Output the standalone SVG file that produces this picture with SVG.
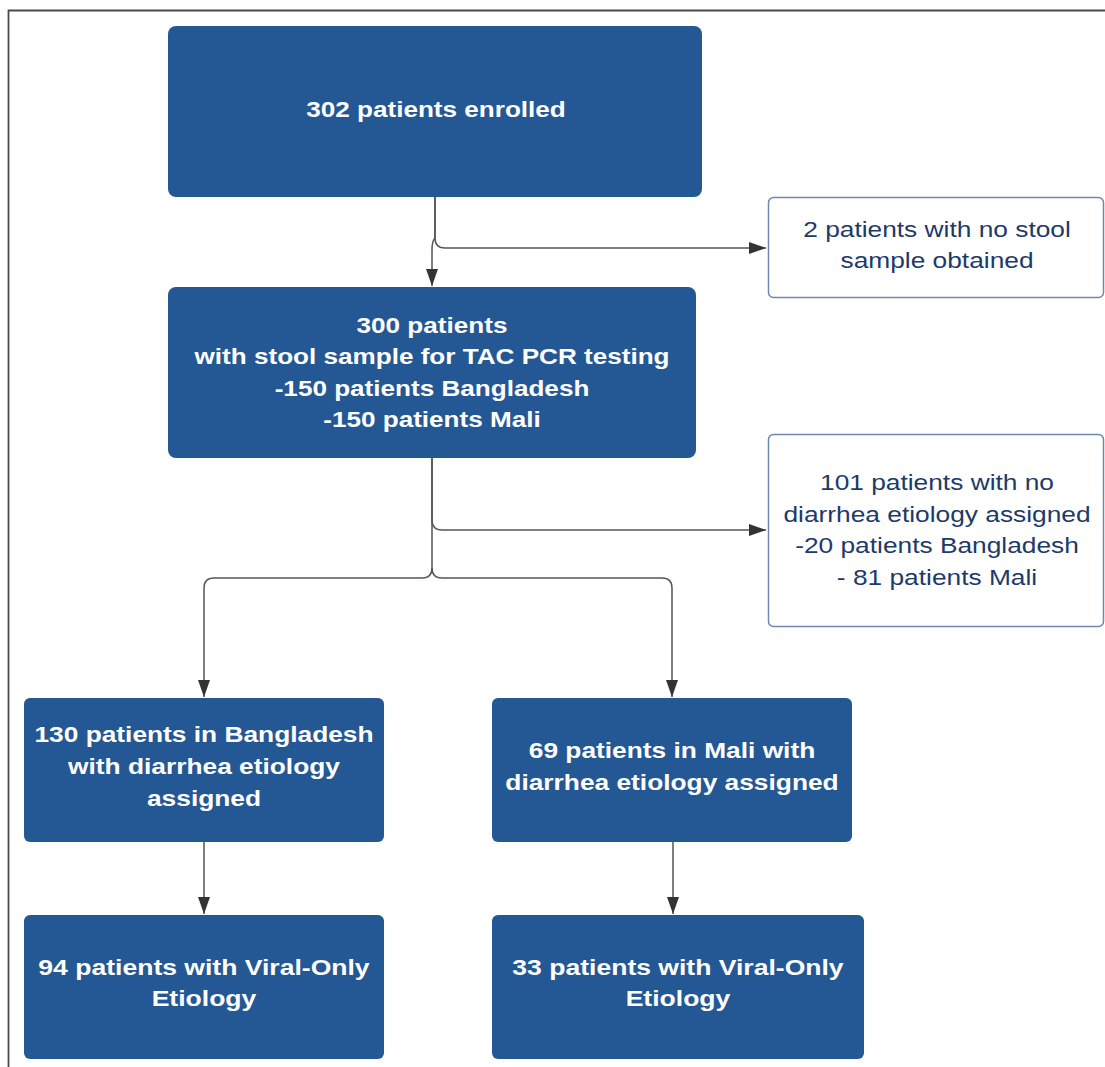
<svg xmlns="http://www.w3.org/2000/svg" width="1105" height="1067" viewBox="0 0 1105 1067">
<defs>
<style>
.blue{fill:#245895;}
.white{fill:#ffffff;stroke:#6f88ad;stroke-width:1.5;}
.bt{font-family:"Liberation Sans",Arial,sans-serif;font-weight:bold;font-size:22.5px;fill:#ffffff;text-anchor:middle;}
.rt{font-family:"Liberation Sans",Arial,sans-serif;font-size:22.5px;fill:#1d3a6a;text-anchor:middle;}
.conn{fill:none;stroke:#555555;stroke-width:1.5;}
</style>
<marker id="arr" markerUnits="userSpaceOnUse" markerWidth="18" markerHeight="12" refX="17" refY="6" orient="auto">
<path d="M0,0 L17,6 L0,12 Z" fill="#333333"/>
</marker>
</defs>
<rect x="0" y="0" width="1105" height="1067" fill="#ffffff"/>
<path d="M8.5,1067 V10.5 H1105" fill="none" stroke="#4a4a4a" stroke-width="1.8"/>

<g id="connectors">
<path class="conn" d="M435,197 V238 Q435,248 445,248 H766" marker-end="url(#arr)"/>
<path class="conn" d="M435,197 V238 Q432,241 432,250 V286" marker-end="url(#arr)"/>
<path class="conn" d="M432,457 V520 Q432,530 442,530 H766" marker-end="url(#arr)"/>
<path class="conn" d="M432,457 V568 Q432,578 422,578 H214 Q204,578 204,588 V697" marker-end="url(#arr)"/>
<path class="conn" d="M432,568 Q432,578 442,578 H662 Q672,578 672,588 V697" marker-end="url(#arr)"/>
<path class="conn" d="M204,842 V914" marker-end="url(#arr)"/>
<path class="conn" d="M673,842 V914" marker-end="url(#arr)"/>
</g>

<g id="n302">
<rect class="blue" x="168" y="26" width="534" height="171" rx="8"/>
<g transform="translate(436,0) scale(1.16,1)">
<text class="bt" x="0" y="117">302 patients enrolled</text>
</g>
</g>

<g id="nNoStool">
<rect class="white" x="768.5" y="197.5" width="335" height="100" rx="5"/>
<g transform="translate(937,0) scale(1.17,1)">
<text class="rt" x="0" y="237">2 patients with no stool</text>
<text class="rt" x="0" y="268">sample obtained</text>
</g>
</g>

<g id="n300">
<rect class="blue" x="168" y="287" width="528" height="171" rx="8"/>
<g transform="translate(432,0) scale(1.16,1)">
<text class="bt" x="0" y="333">300 patients</text>
<text class="bt" x="0" y="364">with stool sample for TAC PCR testing</text>
<text class="bt" x="0" y="396">-150 patients Bangladesh</text>
<text class="bt" x="0" y="427">-150 patients Mali</text>
</g>
</g>

<g id="nNoEtiology">
<rect class="white" x="768.5" y="434.5" width="335" height="192" rx="5"/>
<g transform="translate(937,0) scale(1.17,1)">
<text class="rt" x="0" y="490">101 patients with no</text>
<text class="rt" x="0" y="522">diarrhea etiology assigned</text>
<text class="rt" x="0" y="553">-20 patients Bangladesh</text>
<text class="rt" x="0" y="585">- 81 patients Mali</text>
</g>
</g>

<g id="n130">
<rect class="blue" x="24" y="698" width="360" height="144" rx="6"/>
<g transform="translate(204,0) scale(1.17,1)">
<text class="bt" x="0" y="742">130 patients in Bangladesh</text>
<text class="bt" x="0" y="774">with diarrhea etiology</text>
<text class="bt" x="0" y="806">assigned</text>
</g>
</g>

<g id="n69">
<rect class="blue" x="492" y="698" width="360" height="144" rx="6"/>
<g transform="translate(672,0) scale(1.17,1)">
<text class="bt" x="0" y="758">69 patients in Mali with</text>
<text class="bt" x="0" y="790">diarrhea etiology assigned</text>
</g>
</g>

<g id="n94">
<rect class="blue" x="24" y="915" width="360" height="144" rx="6"/>
<g transform="translate(204,0) scale(1.18,1)">
<text class="bt" x="0" y="975">94 patients with Viral-Only</text>
<text class="bt" x="0" y="1006">Etiology</text>
</g>
</g>

<g id="n33">
<rect class="blue" x="492" y="915" width="372" height="144" rx="6"/>
<g transform="translate(678,0) scale(1.18,1)">
<text class="bt" x="0" y="975">33 patients with Viral-Only</text>
<text class="bt" x="0" y="1006">Etiology</text>
</g>
</g>
</svg>
